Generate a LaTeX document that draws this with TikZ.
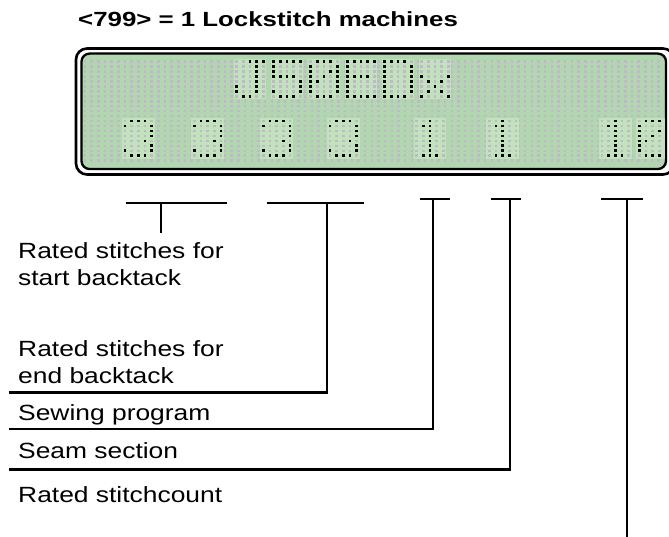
\documentclass[tikz,border=0pt]{standalone}
\usepackage{graphicx}
\usepackage{fontspec}
\setmainfont{Liberation Sans}
\definecolor{lcdgreen}{RGB}{178,214,176}
\definecolor{cellgreen}{RGB}{194,226,190}
\definecolor{dotgrey}{RGB}{192,184,200}
% horizontally widened text
\newcommand\widetext[2]{\scalebox{#1}[1]{#2}}
% one 5x8 character cell: x of first dot column, y of first dot row, lit dots (col/row)
\newcommand\lcdglyph[3]{%
  \fill[cellgreen] (#1-3,#2-3) rectangle (#1+4*6.67+3,#2+7*4.95+3);
  \foreach \c in {0,...,4}{\foreach \r in {0,...,7}{%
    \fill[dotgrey] (#1+\c*6.67-1.25,#2+\r*4.95-1.25) rectangle ++(2.5,2.5);}}
  \foreach \c/\r in #3{\fill[black] (#1+\c*6.67-1.35,#2+\r*4.95-1.35) rectangle ++(2.7,2.7);}%
}
\def\glyphJ{2/0,3/0,4/0,3/1,3/2,3/3,3/4,0/5,3/5,0/6,3/6,1/7,2/7}
\def\glyphFive{0/0,1/0,2/0,3/0,4/0,0/1,0/2,0/3,1/3,2/3,3/3,4/4,4/5,0/6,4/6,1/7,2/7,3/7}
\def\glyphZero{1/0,2/0,3/0,0/1,4/1,0/2,3/2,4/2,0/3,2/3,4/3,0/4,1/4,4/4,0/5,4/5,0/6,4/6,1/7,2/7,3/7}
\def\glyphE{0/0,1/0,2/0,3/0,4/0,0/1,0/2,0/3,1/3,2/3,3/3,0/4,0/5,0/6,0/7,1/7,2/7,3/7,4/7}
\def\glyphD{0/0,1/0,2/0,3/0,0/1,4/1,0/2,4/2,0/3,4/3,0/4,4/4,0/5,4/5,0/6,4/6,0/7,1/7,2/7,3/7}
\def\glyphx{0/3,4/3,1/4,3/4,2/5,1/6,3/6,0/7,4/7}
\def\glyphThree{1/0,2/0,3/0,0/1,4/1,4/2,4/3,3/4,4/5,0/6,4/6,1/7,2/7,3/7}
\def\glyphOne{2/0,1/1,2/1,2/2,2/3,2/4,2/5,2/6,1/7,2/7,3/7}
\begin{document}
\begin{tikzpicture}[x=1pt,y=-1pt,
  leader/.style={line width=2.1pt},
  lbl/.style={anchor=base west, inner sep=0pt, font=\fontsize{22}{26}\selectfont},
]
\useasboundingbox (0,0) rectangle (669,537);

% heading
\node[anchor=base west, inner sep=0pt, font=\bfseries\fontsize{20.5}{24}\selectfont]
  (title) at (78,27) {\widetext{1.26}{<799> = 1 Lockstitch machines}};

% display frame: double rounded border around the green panel
\draw[line width=2.6pt, fill=white, rounded corners=11pt] (76,48.5) rectangle (674,174.5);
\draw[line width=2.3pt, fill=lcdgreen, rounded corners=8pt] (81.5,53.6) rectangle (666,169);

\begin{scope}
  \clip[rounded corners=7pt] (82.7,54.8) rectangle (664.8,167.8);
  % unlit dot matrix
  \foreach \i in {0,...,86}{\foreach \j in {0,...,20}{%
    \fill[dotgrey] (85+\i*6.67-1.25,61.7+\j*4.95-1.25) rectangle ++(2.5,2.5);}}
  % first line: J50EDx
  \lcdglyph{236.7}{61.7}{\glyphJ}
  \lcdglyph{273.7}{61.7}{\glyphFive}
  \lcdglyph{310.7}{61.7}{\glyphZero}
  \lcdglyph{347.7}{61.7}{\glyphE}
  \lcdglyph{384.7}{61.7}{\glyphD}
  \lcdglyph{421.7}{61.7}{\glyphx}
  % second line: 3 3 3 3 1 1 10
  \lcdglyph{125}{121.1}{\glyphThree}
  \lcdglyph{194.3}{121.1}{\glyphThree}
  \lcdglyph{263.3}{121.1}{\glyphThree}
  \lcdglyph{330}{121.1}{\glyphThree}
  \lcdglyph{416.7}{121.1}{\glyphOne}
  \lcdglyph{489.3}{121.1}{\glyphOne}
  \lcdglyph{602}{121.1}{\glyphOne}
  \lcdglyph{639.3}{121.1}{\glyphZero}
\end{scope}

% labels
\node[lbl] (startA) at (18,259) {\widetext{1.2}{Rated stitches for}};
\node[lbl] (startB) at (18,286) {\widetext{1.2}{start backtack}};
\node[lbl] (endA)   at (18,356) {\widetext{1.2}{Rated stitches for}};
\node[lbl] (endB)   at (18,383) {\widetext{1.2}{end backtack}};
\node[lbl] (prog)   at (18,420) {\widetext{1.2}{Sewing program}};
\node[lbl] (sect)   at (18,458) {\widetext{1.2}{Seam section}};
\node[lbl] (count)  at (18,502) {\widetext{1.2}{Rated stitchcount}};

% bracket ends and leader corners
\coordinate (b1l) at (125.7,202.7); \coordinate (b1r) at (226.7,202.7);
\coordinate (s1t) at (161,202.7);   \coordinate (s1b) at (161,233.3);
\coordinate (b2l) at (266.7,202.7); \coordinate (b2r) at (364,202.7);
\coordinate (s2t) at (326.7,202.7); \coordinate (u2) at (8.5,392.5);
\coordinate (b3l) at (420,199.3);   \coordinate (b3r) at (450,199.3);
\coordinate (s3t) at (433.3,199.3); \coordinate (u3) at (8.5,429);
\coordinate (b4l) at (491,199.3);   \coordinate (b4r) at (521,199.3);
\coordinate (s4t) at (510,199.3);   \coordinate (u4) at (8.5,469.5);
\coordinate (b5l) at (601,199.3);   \coordinate (b5r) at (643,199.3);
\coordinate (s5t) at (627,199.3);   \coordinate (s5b) at (627,537);

\draw[leader] (b1l) -- (b1r) (s1t) -- (s1b);
\draw[leader] (b2l) -- (b2r) (s2t) |- (u2);
\draw[leader] (b3l) -- (b3r) (s3t) |- (u3);
\draw[leader] (b4l) -- (b4r) (s4t) |- (u4);
\draw[leader] (b5l) -- (b5r) (s5t) -- (s5b);
\end{tikzpicture}
\end{document}
